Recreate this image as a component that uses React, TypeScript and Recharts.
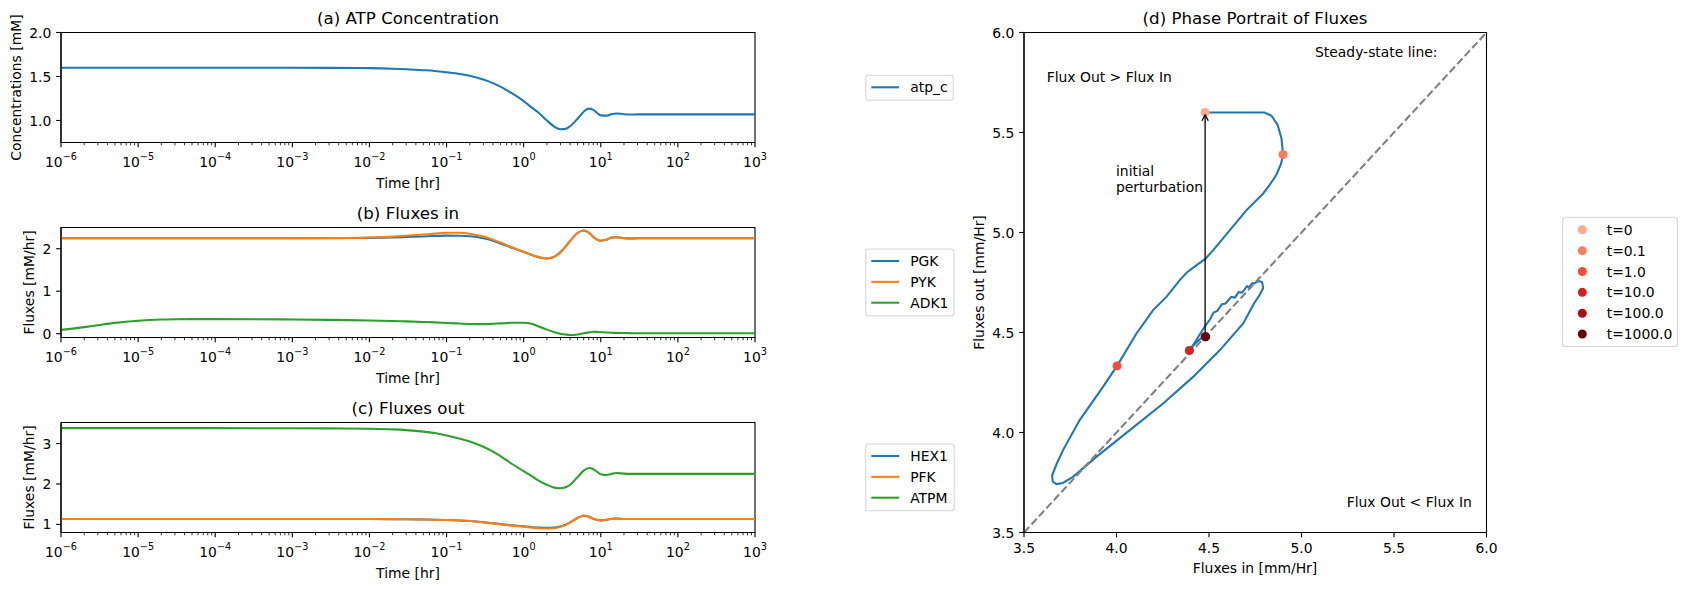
import React from "react";
import {
  LineChart,
  ComposedChart,
  Line,
  Scatter,
  Cell,
  XAxis,
  YAxis,
  ReferenceArea,
  ReferenceLine,
} from "recharts";

const FONT = "DejaVu Sans";
const BLUE = "#1f77b4";
const ORANGE = "#ff7f0e";
const GREEN = "#2ca02c";

// simulation time grid [hr]
const TIME = [
  1e-6, 2e-6, 3e-6, 5e-6, 1e-5, 2e-5, 3e-5, 5e-5, 1e-4, 1e-3, 3e-3, 1e-2, 0.02, 0.03, 0.05, 0.07,
  0.1, 0.15, 0.2, 0.3, 0.4, 0.5, 0.7, 1.0, 1.3, 1.6, 2.0, 2.5, 3.0, 3.5, 4.0, 5.0, 6.0, 7.0, 8.0,
  9.0, 10, 12, 14, 16, 20, 25, 30, 50, 100, 1000,
];

// (a) ATP concentration [mM]
const ATP_C = [
  1.6, 1.6, 1.6, 1.6, 1.6, 1.6, 1.6, 1.6, 1.6, 1.599, 1.598, 1.595, 1.589, 1.583, 1.572, 1.563,
  1.548, 1.528, 1.508, 1.465, 1.425, 1.385, 1.31, 1.22, 1.14, 1.08, 1.0, 0.93, 0.9, 0.905, 0.935,
  1.02, 1.1, 1.135, 1.12, 1.085, 1.058, 1.055, 1.075, 1.08, 1.072, 1.068, 1.07, 1.07, 1.07, 1.07,
];

// (b) fluxes in [mM/hr]
const PGK = [
  2.245, 2.245, 2.245, 2.245, 2.245, 2.245, 2.245, 2.245, 2.245, 2.246, 2.249, 2.256, 2.266, 2.275,
  2.29, 2.3, 2.308, 2.305, 2.292, 2.245, 2.185, 2.125, 2.025, 1.925, 1.845, 1.795, 1.77, 1.81, 1.92,
  2.05, 2.18, 2.37, 2.43, 2.38, 2.28, 2.215, 2.19, 2.215, 2.265, 2.27, 2.25, 2.243, 2.245, 2.245,
  2.245, 2.245,
];
const PYK = [
  2.245, 2.245, 2.245, 2.245, 2.245, 2.245, 2.245, 2.245, 2.245, 2.247, 2.252, 2.265, 2.285, 2.305,
  2.335, 2.355, 2.375, 2.375, 2.355, 2.29, 2.215, 2.145, 2.035, 1.93, 1.848, 1.797, 1.772, 1.81, 1.92,
  2.05, 2.18, 2.37, 2.43, 2.38, 2.28, 2.215, 2.19, 2.215, 2.265, 2.27, 2.25, 2.243, 2.245, 2.245,
  2.245, 2.245,
];
const ADK1 = [
  0.09, 0.155, 0.2, 0.255, 0.305, 0.333, 0.34, 0.343, 0.343, 0.335, 0.325, 0.31, 0.3, 0.29, 0.276,
  0.266, 0.252, 0.238, 0.228, 0.224, 0.232, 0.242, 0.256, 0.258, 0.225, 0.165, 0.095, 0.035, 0.0,
  -0.02, -0.03, -0.018, 0.01, 0.03, 0.045, 0.04, 0.035, 0.027, 0.022, 0.018, 0.015, 0.012, 0.011,
  0.01, 0.01, 0.01,
];

// (c) fluxes out [mM/hr]
const HEX1 = [
  1.132, 1.132, 1.132, 1.132, 1.132, 1.132, 1.132, 1.132, 1.132, 1.132, 1.132, 1.132, 1.13, 1.128,
  1.122, 1.117, 1.108, 1.095, 1.083, 1.055, 1.03, 1.008, 0.98, 0.952, 0.932, 0.92, 0.915, 0.92, 0.95,
  0.99, 1.05, 1.16, 1.215, 1.19, 1.14, 1.11, 1.1, 1.115, 1.14, 1.145, 1.135, 1.132, 1.132, 1.132,
  1.132, 1.132,
];
const PFK = [
  1.132, 1.132, 1.132, 1.132, 1.132, 1.132, 1.132, 1.132, 1.132, 1.132, 1.132, 1.132, 1.13, 1.128,
  1.122, 1.117, 1.108, 1.095, 1.083, 1.05, 1.025, 1.0, 0.97, 0.94, 0.92, 0.905, 0.9, 0.905, 0.94,
  0.99, 1.05, 1.16, 1.22, 1.19, 1.14, 1.11, 1.1, 1.115, 1.14, 1.145, 1.135, 1.132, 1.132, 1.132,
  1.132, 1.132,
];
const ATPM = [
  3.38, 3.38, 3.38, 3.38, 3.38, 3.38, 3.38, 3.38, 3.38, 3.378, 3.374, 3.365, 3.35, 3.332, 3.295,
  3.258, 3.2, 3.12, 3.05, 2.92, 2.8, 2.69, 2.5, 2.32, 2.18, 2.07, 1.98, 1.91, 1.895, 1.92, 1.98,
  2.17, 2.33, 2.395, 2.365, 2.3, 2.24, 2.22, 2.255, 2.27, 2.255, 2.25, 2.25, 2.25, 2.25, 2.25,
];

// (d) trajectory: total flux in vs total flux out [mm/Hr]
const PHASE_IN = [
  4.479, 4.6, 4.7, 4.8, 4.838, 4.871, 4.892, 4.9, 4.89, 4.865, 4.83, 4.793, 4.703, 4.613, 4.523,
  4.48, 4.433, 4.38, 4.342, 4.27, 4.198, 4.108, 4.003, 3.927, 3.801, 3.711, 3.675, 3.652, 3.655,
  3.675, 3.71, 3.765, 3.891, 4.072, 4.252, 4.414, 4.559, 4.685, 4.74, 4.775, 4.793, 4.787, 4.77,
  4.745, 4.735, 4.715, 4.705, 4.68, 4.66, 4.64, 4.62, 4.59, 4.57, 4.545, 4.525, 4.505, 4.47, 4.43,
  4.394, 4.42, 4.455, 4.48,
];
const PHASE_OUT = [
  5.6, 5.6, 5.6, 5.6, 5.584, 5.538, 5.47, 5.39, 5.345, 5.29, 5.24, 5.195, 5.112, 5.012, 4.912,
  4.868, 4.837, 4.8, 4.762, 4.678, 4.612, 4.495, 4.333, 4.228, 4.062, 3.912, 3.84, 3.785, 3.755,
  3.742, 3.748, 3.778, 3.878, 4.012, 4.145, 4.278, 4.412, 4.545, 4.64, 4.69, 4.722, 4.752, 4.757,
  4.745, 4.748, 4.725, 4.732, 4.7, 4.702, 4.675, 4.678, 4.645, 4.642, 4.608, 4.6, 4.565, 4.52,
  4.46, 4.41, 4.44, 4.47, 4.482,
];

// sampled time points on the trajectory
const MARKER_LABELS = ["t=0", "t=0.1", "t=1.0", "t=10.0", "t=100.0", "t=1000.0"];
const MARKER_IN = [4.479, 4.9, 4.003, 4.394, 4.479, 4.482];
const MARKER_OUT = [5.6, 5.39, 4.333, 4.41, 4.479, 4.479];
const MARKER_COLORS = ["#fcab8f", "#fb7d5d", "#f34c37", "#d42121", "#a91016", "#67000d"];

// perturbation arrow (start, tip)
const ARROW_IN = [4.479, 4.479];
const ARROW_OUT = [4.48, 5.588];

const LOG_MAJOR = [1e-6, 1e-5, 1e-4, 1e-3, 1e-2, 1e-1, 1, 10, 100, 1000];
const LOG_EXP = ["−6", "−5", "−4", "−3", "−2", "−1", "0", "1", "2", "3"];
const MINOR_STEPS = [2, 3, 4, 5, 6, 7, 8, 9];
const LOG_TICKS = LOG_MAJOR.flatMap((m, i) =>
  i < LOG_MAJOR.length - 1 ? [m, ...MINOR_STEPS.map((s) => s * m)] : [m]
);

const PHASE_TICKS = [3.5, 4.0, 4.5, 5.0, 5.5, 6.0];

const timeRows = TIME.map((t, i) => ({
  t,
  atp_c: ATP_C[i],
  PGK: PGK[i],
  PYK: PYK[i],
  ADK1: ADK1[i],
  HEX1: HEX1[i],
  PFK: PFK[i],
  ATPM: ATPM[i],
}));
const phaseRows = PHASE_IN.map((x, i) => ({ x, y: PHASE_OUT[i] }));
const markerRows = MARKER_IN.map((x, i) => ({ x, y: MARKER_OUT[i] }));
const arrowRows = ARROW_IN.map((x, i) => ({ x, y: ARROW_OUT[i] }));

const FS = 13.9;
const TITLE_FS = 16.67;
const MAJOR_LEN = 4.86;
const MINOR_LEN = 2.78;
const LOG_OFF = 5;
const AXIS_LINE = { stroke: "#000", strokeWidth: 1.11 };
const TICK_LINE = { stroke: "#000", strokeWidth: 1.11 };

function LogTick(props: any) {
  const { x, y, payload } = props;
  const v = payload.value;
  const idx = LOG_MAJOR.findIndex((m) => Math.abs(v - m) < m * 1e-6);
  const major = idx >= 0;
  const y0 = y - LOG_OFF;
  return (
    <g>
      <line
        x1={x}
        x2={x}
        y1={y0}
        y2={y0 + (major ? MAJOR_LEN : MINOR_LEN)}
        stroke="#000"
        strokeWidth={major ? 1.11 : 0.83}
      />
      {major && (
        <text x={x} y={y0 + 24.2} textAnchor="middle" fontFamily={FONT} fontSize={FS} fill="#000">
          <tspan>10</tspan>
          <tspan dy={-6.6} fontSize={9.7}>
            {LOG_EXP[idx]}
          </tspan>
        </text>
      )}
    </g>
  );
}

const yTick = (digits: number) => (props: any) => {
  const { x, y, payload } = props;
  return (
    <text x={x} y={y + 5} textAnchor="end" fontFamily={FONT} fontSize={FS} fill="#000">
      {digits > 0 ? payload.value.toFixed(digits) : String(payload.value)}
    </text>
  );
};

const xTick = (props: any) => {
  const { x, y, payload } = props;
  return (
    <text x={x} y={y + 11} textAnchor="middle" fontFamily={FONT} fontSize={FS} fill="#000">
      {payload.value.toFixed(1)}
    </text>
  );
};

interface Series {
  key: string;
  color: string;
}

function TimePanel({
  top,
  series,
  domain,
  ticks,
  digits,
}: {
  top: number;
  series: Series[];
  domain: [number, number];
  ticks: number[];
  digits: number;
}) {
  return (
    <div style={{ position: "absolute", left: 0, top }}>
      <LineChart width={800} height={200} data={timeRows} margin={{ top: 32.5, right: 45, bottom: 0, left: 0 }}>
        <XAxis
          dataKey="t"
          type="number"
          scale="log"
          domain={[1e-6, 1e3]}
          allowDataOverflow
          ticks={LOG_TICKS}
          interval={0}
          tick={(p: any) => <LogTick {...p} />}
          tickLine={false}
          tickSize={LOG_OFF}
          tickMargin={0}
          height={57.5}
          axisLine={AXIS_LINE}
        />
        <YAxis
          type="number"
          domain={domain}
          allowDataOverflow
          ticks={ticks}
          interval={0}
          width={61}
          tick={yTick(digits)}
          tickSize={MAJOR_LEN}
          tickMargin={MAJOR_LEN}
          tickLine={TICK_LINE}
          axisLine={AXIS_LINE}
          stroke="#000"
        />
        <ReferenceArea
          x1={1e-6}
          x2={1e3}
          y1={domain[0]}
          y2={domain[1]}
          fill="none"
          stroke="#000"
          strokeWidth={1.11}
          ifOverflow="visible"
        />
        {series.map((s) => (
          <Line
            key={s.key}
            dataKey={s.key}
            type="monotone"
            stroke={s.color}
            strokeWidth={2.08}
            dot={false}
            activeDot={false}
            isAnimationActive={false}
          />
        ))}
      </LineChart>
    </div>
  );
}

function PhasePanel() {
  return (
    <div style={{ position: "absolute", left: 980, top: 0 }}>
      <ComposedChart width={520} height={590} margin={{ top: 32.5, right: 13.5, bottom: 0, left: 0 }}>
        <XAxis
          dataKey="x"
          type="number"
          domain={[3.5, 6]}
          allowDataOverflow
          ticks={PHASE_TICKS}
          interval={0}
          tick={xTick}
          tickSize={MAJOR_LEN}
          tickMargin={MAJOR_LEN}
          tickLine={TICK_LINE}
          axisLine={AXIS_LINE}
          stroke="#000"
          height={57.5}
        />
        <YAxis
          type="number"
          domain={[3.5, 6]}
          allowDataOverflow
          ticks={PHASE_TICKS}
          interval={0}
          width={44}
          tick={yTick(1)}
          tickSize={MAJOR_LEN}
          tickMargin={MAJOR_LEN}
          tickLine={TICK_LINE}
          axisLine={AXIS_LINE}
          stroke="#000"
        />
        <ReferenceArea
          x1={3.5}
          x2={6}
          y1={3.5}
          y2={6}
          fill="none"
          stroke="#000"
          strokeWidth={1.11}
          ifOverflow="visible"
        />
        <Line
          data={phaseRows}
          dataKey="y"
          type="linear"
          stroke={BLUE}
          strokeWidth={2.08}
          dot={false}
          activeDot={false}
          isAnimationActive={false}
        />
        <ReferenceLine
          segment={[
            { x: 3.5, y: 3.5 },
            { x: 6, y: 6 },
          ]}
          stroke="#808080"
          strokeWidth={2.08}
          strokeDasharray="7.7 3.3"
          ifOverflow="visible"
        />
        <Scatter data={markerRows} dataKey="y" isAnimationActive={false}>
          {markerRows.map((_, i) => (
            <Cell key={i} fill={MARKER_COLORS[i]} />
          ))}
        </Scatter>
        <Line
          data={arrowRows}
          dataKey="y"
          type="linear"
          stroke="#000"
          strokeWidth={1.3}
          activeDot={false}
          isAnimationActive={false}
          dot={(p: any) =>
            p.index === arrowRows.length - 1 ? (
              <path
                key="head"
                d={`M${p.cx - 3.2},${p.cy + 5.8} L${p.cx},${p.cy} L${p.cx + 3.2},${p.cy + 5.8}`}
                fill="none"
                stroke="#000"
                strokeWidth={1.3}
              />
            ) : (
              <g key={`s${p.index}`} />
            )
          }
        />
      </ComposedChart>
    </div>
  );
}

function LineLegend({ x, y, w, items }: { x: number; y: number; w: number; items: Series[] }) {
  const h = 11.1 + items.length * 13.9 + (items.length - 1) * 6.95;
  return (
    <g>
      <rect x={x} y={y} width={w} height={h} rx={2.8} fill="#fff" fillOpacity={0.8} stroke="#cccccc" strokeOpacity={0.8} strokeWidth={1.1} />
      {items.map((it, i) => {
        const cy = y + 12 + i * 20.85;
        return (
          <g key={it.key}>
            <line x1={x + 5.6} x2={x + 33.4} y1={cy} y2={cy} stroke={it.color} strokeWidth={2.08} />
            <text x={x + 44.5} y={cy + 5} fontFamily={FONT} fontSize={FS} fill="#000">
              {it.key}
            </text>
          </g>
        );
      })}
    </g>
  );
}

function MarkerLegend({ x, y, w }: { x: number; y: number; w: number }) {
  const h = 11.1 + MARKER_LABELS.length * 13.9 + (MARKER_LABELS.length - 1) * 6.95;
  return (
    <g>
      <rect x={x} y={y} width={w} height={h} rx={2.8} fill="#fff" fillOpacity={0.8} stroke="#cccccc" strokeOpacity={0.8} strokeWidth={1.1} />
      {MARKER_LABELS.map((lab, i) => {
        const cy = y + 12.5 + i * 20.85;
        return (
          <g key={lab}>
            <circle cx={x + 19.6} cy={cy} r={4.5} fill={MARKER_COLORS[i]} />
            <text x={x + 44} y={cy + 5} fontFamily={FONT} fontSize={FS} fill="#000">
              {lab}
            </text>
          </g>
        );
      })}
    </g>
  );
}

const IN_SERIES: Series[] = [
  { key: "PGK", color: BLUE },
  { key: "PYK", color: ORANGE },
  { key: "ADK1", color: GREEN },
];
const OUT_SERIES: Series[] = [
  { key: "HEX1", color: BLUE },
  { key: "PFK", color: ORANGE },
  { key: "ATPM", color: GREEN },
];

export default function App() {
  const txt = { fontFamily: FONT, fill: "#000" };
  return (
    <div
      style={{
        position: "absolute",
        left: 0,
        top: 0,
        width: 1687,
        height: 590,
        background: "#fff",
        overflow: "hidden",
      }}
    >
      <TimePanel top={0} series={[{ key: "atp_c", color: BLUE }]} domain={[0.75, 2.0]} ticks={[1.0, 1.5, 2.0]} digits={1} />
      <TimePanel top={195} series={IN_SERIES} domain={[-0.09, 2.5]} ticks={[0, 1, 2]} digits={0} />
      <TimePanel top={390} series={OUT_SERIES} domain={[0.8, 3.52]} ticks={[1, 2, 3]} digits={0} />
      <PhasePanel />
      <svg width={1687} height={590} style={{ position: "absolute", left: 0, top: 0, pointerEvents: "none" }}>
        <g {...txt} fontSize={TITLE_FS} textAnchor="middle">
          <text x={408} y={24.2}>(a) ATP Concentration</text>
          <text x={408} y={219.2}>(b) Fluxes in</text>
          <text x={408} y={414.2}>(c) Fluxes out</text>
          <text x={1255} y={24.2}>(d) Phase Portrait of Fluxes</text>
        </g>
        <g {...txt} fontSize={FS} textAnchor="middle">
          <text x={408} y={187.6}>Time [hr]</text>
          <text x={408} y={382.6}>Time [hr]</text>
          <text x={408} y={577.6}>Time [hr]</text>
          <text x={1255} y={573.2}>Fluxes in [mm/Hr]</text>
          <text transform="translate(20.5,87.5) rotate(-90)">Concentrations [mM]</text>
          <text transform="translate(34.3,282.5) rotate(-90)">Fluxes [mM/hr]</text>
          <text transform="translate(34.3,477.5) rotate(-90)">Fluxes [mM/hr]</text>
          <text transform="translate(984,282.5) rotate(-90)">Fluxes out [mm/Hr]</text>
        </g>
        <g {...txt} fontSize={FS}>
          <text x={1315} y={57.3}>Steady-state line:</text>
          <text x={1046.7} y={82.3}>Flux Out &gt; Flux In</text>
          <text x={1116} y={175.5}>initial</text>
          <text x={1116} y={191.5}>perturbation</text>
          <text x={1346.7} y={507.3}>Flux Out &lt; Flux In</text>
        </g>
        <LineLegend x={865.7} y={75.3} w={87.6} items={[{ key: "atp_c", color: BLUE }]} />
        <LineLegend x={865.7} y={249} w={88.3} items={IN_SERIES} />
        <LineLegend x={865.7} y={444} w={88.5} items={OUT_SERIES} />
        <MarkerLegend x={1562.7} y={217.3} w={114.6} />
      </svg>
    </div>
  );
}
